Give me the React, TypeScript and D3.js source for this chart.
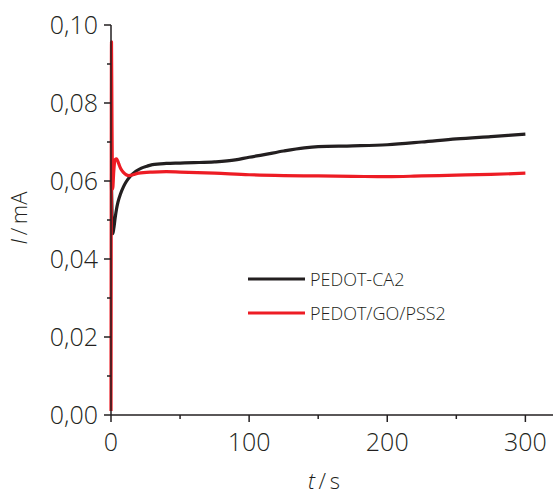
import React from "react";
import * as d3 from "d3";

const blackT = [0.3, 0.8, 1.3, 2, 3, 4, 5, 7, 9, 11, 14, 18, 22, 26, 30, 40, 50, 60, 75, 90, 100, 110, 125, 140, 150, 175, 200, 225, 250, 275, 300];
const blackI = [0.06, 0.05, 0.0465, 0.0478, 0.0505, 0.0528, 0.0545, 0.0568, 0.0585, 0.0598, 0.0612, 0.0625, 0.0633, 0.0638, 0.0642, 0.0645, 0.0646, 0.0647, 0.0649, 0.0654, 0.0661, 0.0667, 0.0677, 0.0685, 0.0688, 0.069, 0.0693, 0.07, 0.0708, 0.0714, 0.072];

const redT = [0, 0.15, 0.35, 0.7, 1.2, 2, 3, 4, 5.5, 7, 9, 11, 13, 16, 20, 30, 40, 50, 75, 100, 125, 150, 175, 200, 225, 250, 275, 300];
const redI = [0.001, 0.05, 0.0957, 0.075, 0.058, 0.0625, 0.0655, 0.0657, 0.0645, 0.0632, 0.0622, 0.0616, 0.0614, 0.0616, 0.062, 0.0623, 0.0624, 0.0623, 0.062, 0.0616, 0.0614, 0.0613, 0.0612, 0.0611, 0.0613, 0.0615, 0.0617, 0.062];

const xMajor = [0, 100, 200, 300];
const xMinor = [50, 150, 250];
const yMajor = [0, 0.02, 0.04, 0.06, 0.08, 0.1];
const yMinor = [0.01, 0.03, 0.05, 0.07, 0.09];

const seriesNames = ["PEDOT-CA2", "PEDOT/GO/PSS2"];
const seriesColors = ["#231f20", "#ed1c24"];

const font = "'Open Sans', sans-serif";

export default function App() {
  const x = d3.scaleLinear().domain([0, 320]).range([111, 553]);
  const y = d3.scaleLinear().domain([0, 0.1]).range([415, 25]);
  const line = d3
    .line<[number, number]>()
    .x((d) => x(d[0]))
    .y((d) => y(d[1]))
    .curve(d3.curveMonotoneX);
  const blackData = blackT.map((t, i) => [t, blackI[i]] as [number, number]);
  const redData = redT.map((t, i) => [t, redI[i]] as [number, number]);
  const fmt = (v: number) => v.toFixed(2).replace(".", ",");
  const axisColor = "#231f20";
  return (
    <svg width={554} height={494} style={{ position: "absolute", left: 0, top: 0, background: "#fff" }}>
      <path d={line(blackData) || ""} fill="none" stroke={seriesColors[0]} strokeWidth={3.2} strokeLinejoin="round" />
      <path d={line(redData) || ""} fill="none" stroke={seriesColors[1]} strokeWidth={3.2} strokeLinejoin="round" />
      <line x1={x(0)} x2={x(0)} y1={y(0.1)} y2={y(0)} stroke={axisColor} strokeWidth={1.5} />
      <line x1={x(0)} x2={553} y1={y(0)} y2={y(0)} stroke={axisColor} strokeWidth={1.5} />
      {yMajor.map((v) => (
        <g key={"ym" + v}>
          <line x1={x(0) - 7} x2={x(0)} y1={y(v)} y2={y(v)} stroke={axisColor} strokeWidth={1.5} />
          <text x={x(0) - 13} y={y(v)} dy="0.36em" textAnchor="end" fontFamily={font} fontWeight={300} fontSize={25} fill={axisColor}>
            {fmt(v)}
          </text>
        </g>
      ))}
      {yMinor.map((v) => (
        <line key={"yn" + v} x1={x(0) - 4} x2={x(0)} y1={y(v)} y2={y(v)} stroke={axisColor} strokeWidth={1.5} />
      ))}
      {xMajor.map((v) => (
        <g key={"xm" + v}>
          <line x1={x(v)} x2={x(v)} y1={y(0)} y2={y(0) + 7} stroke={axisColor} strokeWidth={1.5} />
          <text x={x(v)} y={451} textAnchor="middle" fontFamily={font} fontWeight={300} fontSize={25} fill={axisColor}>
            {v}
          </text>
        </g>
      ))}
      {xMinor.map((v) => (
        <line key={"xn" + v} x1={x(v)} x2={x(v)} y1={y(0)} y2={y(0) + 4} stroke={axisColor} strokeWidth={1.5} />
      ))}
      <text x={324} y={489} textAnchor="middle" fontFamily={font} fontWeight={300} fontSize={22} fill={axisColor}>
        <tspan fontStyle="italic">t</tspan>
        <tspan>{"\u2009/\u2009s"}</tspan>
      </text>
      <text transform="translate(27,218) rotate(-90)" textAnchor="middle" fontFamily={font} fontWeight={300} fontSize={22} fill={axisColor}>
        <tspan fontStyle="italic">I</tspan>
        <tspan>{"\u2009/\u2009mA"}</tspan>
      </text>
      {seriesNames.map((n, i) => (
        <g key={n}>
          <line x1={248} x2={305} y1={279 + i * 34} y2={279 + i * 34} stroke={seriesColors[i]} strokeWidth={3} />
          <text x={310} y={280 + i * 34} dy="0.36em" fontFamily={font} fontWeight={300} fontSize={18} fill={axisColor}>
            {n}
          </text>
        </g>
      ))}
    </svg>
  );
}
